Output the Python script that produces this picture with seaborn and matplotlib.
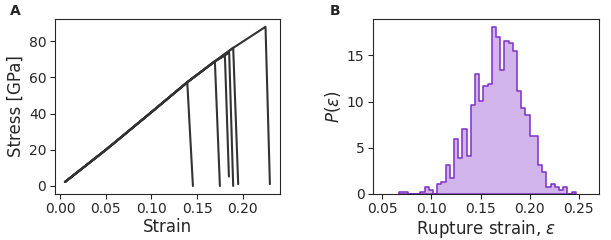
import numpy as np
import pandas as pd
import matplotlib
matplotlib.use("Agg")
import matplotlib.pyplot as plt
import seaborn as sns

# --- Data ---
# shared loading path (strain, stress in GPa)
load_strain = [0.005, 0.05, 0.10, 0.14, 0.17, 0.19, 0.225]
load_stress = [2.2, 20.0, 40.8, 57.6, 69.0, 76.4, 87.9]

# rupture point and where each curve ends after the drop
rupture_strain = [0.1393, 0.1696, 0.1806, 0.1853, 0.1897, 0.2252]
rupture_stress = [57.4, 69.0, 72.1, 73.6, 76.4, 87.9]
end_strain = [0.1455, 0.1751, 0.1850, 0.1897, 0.1952, 0.2300]
end_stress = [0.0, 0.0, 5.2, 0.0, 1.0, 1.0]

# rupture strain histogram (density per bin)
bin_start = 0.0673
bin_width = 0.00428
density = [0.25, 0.25, 0, 0, 0, 0.25, 0.7, 0.47, 0, 1.05,
           1.3, 3.1, 1.75, 5.95, 3.9, 7.0, 4.1, 9.6, 12.95, 10.1,
           11.65, 11.9, 18.05, 17.05, 13.45, 16.55, 16.3, 15.5, 11.15, 9.3,
           8.5, 6.25, 6.25, 3.1, 2.35, 0.75, 1.05, 0.75, 0.47, 0.75,
           0, 0.25]

# --- Build tidy frames ---
rows = []
for run, (rs, rp, es, ep) in enumerate(zip(rupture_strain, rupture_stress,
                                           end_strain, end_stress)):
    for s, p in zip(load_strain, load_stress):
        if s < rs:
            rows.append((run, s, p))
    rows.append((run, rs, rp))
    rows.append((run, es, ep))
curves = pd.DataFrame(rows, columns=["run", "strain", "stress"])

edges = [bin_start + bin_width * i for i in range(len(density) + 1)]
hist_df = pd.DataFrame({
    "center": [(a + b) / 2 for a, b in zip(edges[:-1], edges[1:])],
    "density": density,
})

# --- Plot ---
sns.set_style("ticks")
plt.rcParams["font.family"] = ["DejaVu Sans"]
plt.rcParams["mathtext.fontset"] = "dejavusans"

fig = plt.figure(figsize=(6.11, 2.40), dpi=100)
ax1 = fig.add_axes([0.0895, 0.192, 0.369, 0.729])
ax2 = fig.add_axes([0.610, 0.192, 0.370, 0.729])

sns.lineplot(data=curves, x="strain", y="stress", units="run",
             estimator=None, sort=False, color="#333333", lw=1.5, ax=ax1)
ax1.set_xlabel("Strain", fontsize=12, labelpad=1.5)
ax1.set_ylabel("Stress [GPa]", fontsize=12, labelpad=3)
ax1.set_xticks([0.0, 0.05, 0.10, 0.15, 0.20])
ax1.set_yticks([0, 20, 40, 60, 80])

sns.histplot(data=hist_df, x="center", weights="density", bins=edges,
             element="step", color="#7f2fc6", alpha=0.36, lw=1.1, ax=ax2)
ax2.set_xlim(0.0402, 0.2704)
ax2.set_ylim(0, 18.95)
ax2.set_xticks([0.05, 0.10, 0.15, 0.20, 0.25])
ax2.set_yticks([0, 5, 10, 15])
ax2.set_xlabel(r"Rupture strain, $\varepsilon$", fontsize=12, labelpad=1.5)
ax2.set_ylabel(r"$P(\varepsilon)$", fontsize=12, labelpad=3)

for ax in (ax1, ax2):
    ax.tick_params(labelsize=10, length=3.5, pad=2.5)

fig.text(0.017, 0.955, "A", fontsize=10, fontweight="bold", va="center")
fig.text(0.540, 0.955, "B", fontsize=10, fontweight="bold", va="center")

fig.savefig("out.png", dpi=100)
